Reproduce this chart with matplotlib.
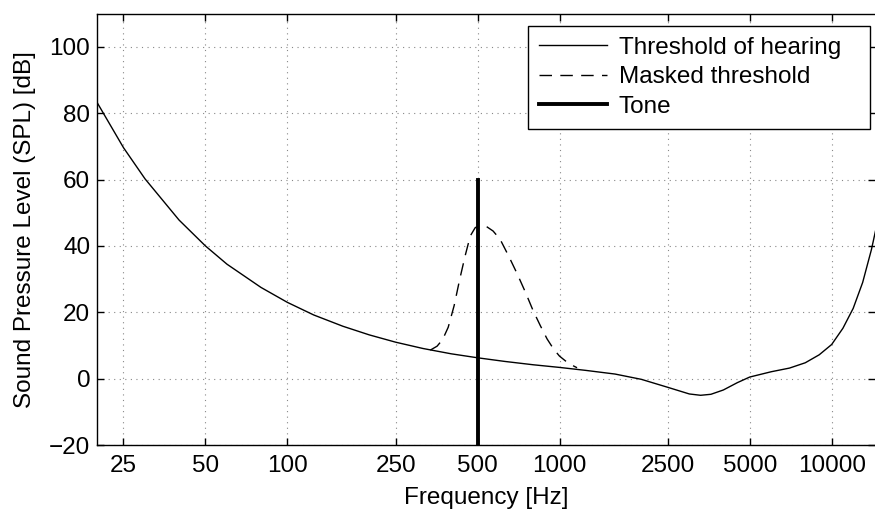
#!/usr/bin/env python3
# Threshold of hearing with a masking tone at 500 Hz (MATLAB-style look).

import matplotlib
matplotlib.use('Agg')
import matplotlib.pyplot as plt
from matplotlib.ticker import FixedLocator, FixedFormatter, NullLocator

plt.rcParams['font.family'] = ['Liberation Sans', 'DejaVu Sans']

# threshold of hearing
hearing_freq = [20, 25, 30, 40, 50, 60, 80, 100, 125, 160, 200, 250, 315, 400,
                500, 630, 800, 1000, 1250, 1600, 2000, 2500, 3000, 3300, 3600,
                4000, 4500, 5000, 6000, 7000, 8000, 9000, 10000, 11000, 12000,
                13000, 14000, 14500]
hearing_db = [83.2, 69.6, 60.2, 47.8, 40.0, 34.5, 27.5, 23.0, 19.2, 15.8, 13.2,
              11.0, 9.1, 7.5, 6.3, 5.2, 4.2, 3.4, 2.5, 1.4, -0.2, -2.6, -4.6,
              -5.0, -4.7, -3.4, -1.2, 0.5, 2.1, 3.2, 4.8, 7.2, 10.3, 15.2, 21.2,
              29.0, 38.9, 44.6]

# masked threshold around the tone
masked_freq = [335, 355, 372, 390, 410, 430, 450, 470, 490, 510, 540, 570, 605,
               650, 700, 750, 800, 850, 900, 950, 1000, 1080, 1160]
masked_db = [8.6, 9.8, 11.8, 15.5, 22.0, 30.0, 37.0, 43.0, 45.5, 46.2, 45.8,
             44.5, 42.0, 37.0, 31.5, 26.0, 20.5, 16.0, 12.0, 9.0, 6.8, 4.6, 3.3]

# masking tone
tone_freq = [500, 500]
tone_db = [-20, 60]

xticks = [25, 50, 100, 250, 500, 1000, 2500, 5000, 10000]
yticks = [-20, 0, 20, 40, 60, 80, 100]

fig = plt.figure(figsize=(8.75, 5.11), dpi=100)
ax = fig.add_axes([0.111, 0.129, 0.889, 0.8444])

ax.plot(hearing_freq, hearing_db, color='black', lw=1.0, label='Threshold of hearing')
ax.plot(masked_freq, masked_db, color='black', lw=1.0, dashes=(9, 6), label='Masked threshold')
ax.plot(tone_freq, tone_db, color='black', lw=2.8, label='Tone')

ax.set_xscale('log')
ax.set_xlim(20, 14430)
ax.set_ylim(-20, 110)
ax.xaxis.set_major_locator(FixedLocator(xticks))
ax.xaxis.set_major_formatter(FixedFormatter([str(t) for t in xticks]))
ax.xaxis.set_minor_locator(NullLocator())
ax.set_yticks(yticks)

ax.grid(True, which='major', color='#888888', linestyle=(0, (1, 4)), lw=0.8)
ax.tick_params(direction='in', length=5, width=1, top=True, right=True,
               labelsize=17.5, pad=7)
ax.tick_params(axis='y', pad=5)
for s in ax.spines.values():
    s.set_linewidth(1.0)
ax.spines['right'].set_visible(False)

ax.set_xlabel('Frequency [Hz]', fontsize=17.5, labelpad=7)
ax.set_ylabel('Sound Pressure Level (SPL) [dB]', fontsize=17.5, labelpad=9)

# legend box stretched to the width of the original, text left aligned
leg = ax.legend(loc='upper left', bbox_to_anchor=(0.6031, 0.5, 0.3912, 0.4491),
                bbox_transform=fig.transFigure, borderaxespad=0, mode='expand',
                fancybox=False, framealpha=1, edgecolor='black',
                fontsize=17.5, handlelength=2.8, handletextpad=0.5,
                labelspacing=0.3, borderpad=0.45)
leg.get_frame().set_linewidth(1.0)

fig.savefig('out.png', dpi=100)
